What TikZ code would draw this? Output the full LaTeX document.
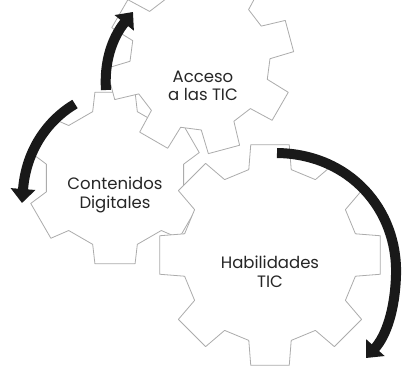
\documentclass[tikz,border=0pt]{standalone}
\usepackage{fontspec}
\setmainfont{Poppins}
\usetikzlibrary{arrows.meta}
\tikzset{
  gearline/.style={draw=gray!65, line width=0.8pt, fill=white, line join=round},
  lbl/.style={font=\fontsize{16.5}{18.5}\selectfont, text=black!85, align=center, inner sep=0pt},
  band/.style={draw=black!90, line width=10pt, -{Triangle[width=24pt,length=14pt]}},
}
\newcommand{\mygear}[6]{%
  \begin{scope}[shift={(#1,#2)}]
    \pgfmathsetmacro\gs{360/#5}
    \pgfmathsetmacro\gt{0.22*\gs}
    \pgfmathsetmacro\gb{0.31*\gs}
    \filldraw[gearline] ({#6-\gb}:#4)
      \foreach \k in {1,...,#5} {
        -- ({#6+(\k-1)*\gs-\gt}:#3) -- ({#6+(\k-1)*\gs+\gt}:#3)
        -- ({#6+(\k-1)*\gs+\gb}:#4) -- ({#6+\k*\gs-\gb}:#4)
      } -- cycle;
  \end{scope}}
\begin{document}
\begin{tikzpicture}[x=1pt,y=-1pt]
  \fill[white] (0,0) rectangle (403,375);
  \useasboundingbox (0,0) rectangle (403,375);
  % gears
  \mygear{115}{178}{88}{70}{6}{90}
  \mygear{270}{255}{112}{88}{8}{0}
  \mygear{200}{60}{94}{70}{8}{75}
  % labels
  \node[lbl] (acceso) at (203,86) {Acceso\\a las TIC};
  \node[lbl] (contenidos) at (115,195) {Contenidos\\Digitales};
  \node[lbl] (habilidades) at (270,272) {Habilidades\\TIC};
  % arrows
  \coordinate (a1s) at (106,90);
  \coordinate (a1e) at (133,12);
  \coordinate (a2s) at (75,104);
  \coordinate (a2e) at (22,203);
  \coordinate (a3s) at (277,153);
  \coordinate (a3m) at (396,275);
  \coordinate (a3e) at (366,358);
  \draw[band] (a1s) .. controls (104,62) and (112,38) .. (a1e);
  \draw[band] (a2s) .. controls (48,120) and (26,150) .. (a2e);
  \draw[band] (a3s) .. controls (350,154) and (398,210) .. (a3m)
              .. controls (395,310) and (386,336) .. (a3e);
\end{tikzpicture}
\end{document}
